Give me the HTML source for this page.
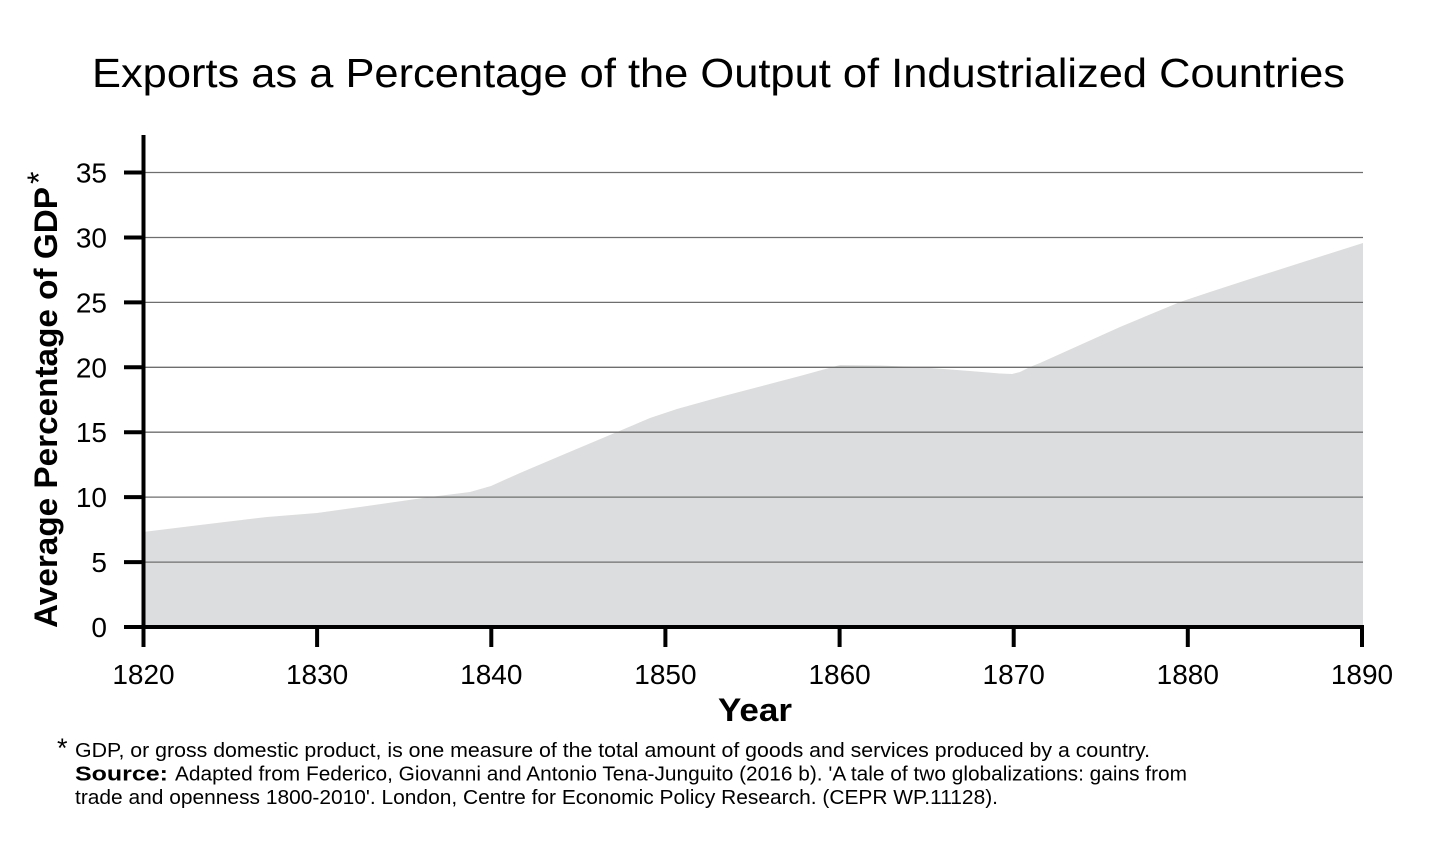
<!DOCTYPE html>
<html>
<head>
<meta charset="utf-8">
<style>
  html, body { margin: 0; padding: 0; background: #ffffff; }
  svg { display: block; }
  text { font-family: "Liberation Sans", Arial, Helvetica, sans-serif; fill: #000; }
</style>
</head>
<body>
<svg width="1436" height="854" viewBox="0 0 1436 854" xmlns="http://www.w3.org/2000/svg">
  <rect x="0" y="0" width="1436" height="854" fill="#ffffff"/>

  <!-- Title -->
  <text x="92" y="87" font-size="41" textLength="1253" lengthAdjust="spacingAndGlyphs">Exports as a Percentage of the Output of Industrialized Countries</text>

  <!-- Area fill -->
  <path fill="#dcdddf" d="M143,627 L143,532 L200,525 L267,517 L317,513 L360,507 L430,497 L470,492 L491,486 L520,473 L560,456 L617,432 L650,418 L677,409 L720,397 L800,376 L840,365 L880,365.5 L917,367 L970,371 L1000,373.5 L1012,374 L1020,372 L1030,367 L1040,363 L1120,327 L1180,302 L1210,292 L1253,278 L1300,263 L1363,243 L1363,627 Z"/>

  <!-- Gridlines -->
  <g stroke="#6e6e6e" stroke-width="1.3">
    <line x1="145" y1="172.5" x2="1363" y2="172.5"/>
    <line x1="145" y1="237.5" x2="1363" y2="237.5"/>
    <line x1="145" y1="302.4" x2="1363" y2="302.4"/>
    <line x1="145" y1="367.3" x2="1363" y2="367.3"/>
    <line x1="145" y1="432.2" x2="1363" y2="432.2"/>
    <line x1="145" y1="497.1" x2="1363" y2="497.1"/>
    <line x1="145" y1="562.1" x2="1363" y2="562.1"/>
  </g>

  <!-- Axes -->
  <g stroke="#000" stroke-width="4" fill="none">
    <line x1="143.5" y1="135" x2="143.5" y2="629"/>
    <line x1="141.5" y1="627" x2="1364" y2="627"/>
    <line x1="124" y1="172.5" x2="143" y2="172.5"/>
    <line x1="124" y1="237.5" x2="143" y2="237.5"/>
    <line x1="124" y1="302.4" x2="143" y2="302.4"/>
    <line x1="124" y1="367.3" x2="143" y2="367.3"/>
    <line x1="124" y1="432.2" x2="143" y2="432.2"/>
    <line x1="124" y1="497.1" x2="143" y2="497.1"/>
    <line x1="124" y1="562.1" x2="143" y2="562.1"/>
    <line x1="124" y1="627" x2="143" y2="627"/>
    <line x1="143.5" y1="627" x2="143.5" y2="647"/>
    <line x1="317.1" y1="627" x2="317.1" y2="647"/>
    <line x1="491.3" y1="627" x2="491.3" y2="647"/>
    <line x1="665.4" y1="627" x2="665.4" y2="647"/>
    <line x1="839.6" y1="627" x2="839.6" y2="647"/>
    <line x1="1013.7" y1="627" x2="1013.7" y2="647"/>
    <line x1="1187.8" y1="627" x2="1187.8" y2="647"/>
    <line x1="1362" y1="627" x2="1362" y2="647"/>
  </g>

  <!-- Y tick labels -->
  <g font-size="28" text-anchor="end">
    <text x="107" y="182.5">35</text>
    <text x="107" y="247.5">30</text>
    <text x="107" y="312.4">25</text>
    <text x="107" y="377.3">20</text>
    <text x="107" y="442.2">15</text>
    <text x="107" y="507.1">10</text>
    <text x="107" y="572.1">5</text>
    <text x="107" y="637">0</text>
  </g>

  <!-- X tick labels -->
  <g font-size="28" text-anchor="middle">
    <text x="143.5" y="684">1820</text>
    <text x="317.1" y="684">1830</text>
    <text x="491.3" y="684">1840</text>
    <text x="665.4" y="684">1850</text>
    <text x="839.6" y="684">1860</text>
    <text x="1013.7" y="684">1870</text>
    <text x="1187.8" y="684">1880</text>
    <text x="1362" y="684">1890</text>
  </g>

  <!-- Axis titles -->
  <text x="718" y="721" font-size="32" font-weight="bold" textLength="74" lengthAdjust="spacingAndGlyphs">Year</text>
  <text transform="translate(57,628) rotate(-90)" x="0" y="0" font-size="32" font-weight="bold" textLength="441" lengthAdjust="spacingAndGlyphs">Average Percentage of GDP</text>
  <text transform="translate(50,184) rotate(-90)" x="0" y="0" font-size="32">*</text>

  <!-- Footnotes -->
  <text x="57" y="757" font-size="27">*</text>
  <text x="75" y="757" font-size="20" textLength="1075" lengthAdjust="spacingAndGlyphs">GDP, or gross domestic product, is one measure of the total amount of goods and services produced by a country.</text>
  <text x="75" y="780.5" font-size="20" font-weight="bold" textLength="93" lengthAdjust="spacingAndGlyphs">Source:</text>
  <text x="175" y="780.5" font-size="20" textLength="1012" lengthAdjust="spacingAndGlyphs">Adapted from Federico, Giovanni and Antonio Tena-Junguito  (2016 b). 'A tale of two globalizations: gains from</text>
  <text x="75" y="804" font-size="20" textLength="923" lengthAdjust="spacingAndGlyphs">trade and openness 1800-2010'. London, Centre for Economic Policy Research. (CEPR WP.11128).</text>
</svg>
</body>
</html>
